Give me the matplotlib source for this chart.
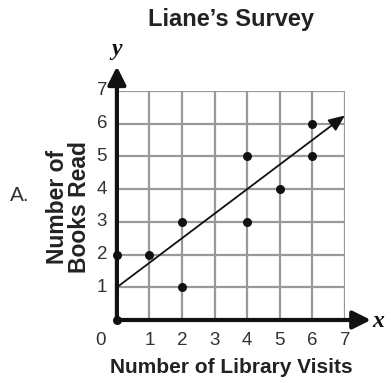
import matplotlib
matplotlib.use("Agg")
import matplotlib.pyplot as plt

plt.rcParams['font.family'] = ['Liberation Sans', 'DejaVu Sans']

# survey results: library visits vs books read
visits = [0, 0, 1, 2, 2, 4, 4, 5, 6, 6]
books = [0, 2, 2, 3, 1, 5, 3, 4, 6, 5]

# trend line y = 0.75x + 1
line_x = [0, 7]
line_y = [1, 6.25]

ticks = [1, 2, 3, 4, 5, 6, 7]

fig = plt.figure(figsize=(3.91, 3.83), dpi=100)
ax = fig.add_axes([0.299, 0.1645, 0.583, 0.598])
ax.set_xlim(0, 7)
ax.set_ylim(0, 7)

for t in range(1, 8):
    ax.axvline(t, color='#999999', lw=1.6, zorder=1)
    ax.axhline(t, color='#999999', lw=1.6, zorder=1)

for s in ax.spines.values():
    s.set_visible(False)
ax.set_xticks([])
ax.set_yticks([])

# axes with arrows
ax.annotate('', xy=(7.8, 0), xytext=(0, 0),
            arrowprops=dict(arrowstyle='-|>,head_length=0.6,head_width=0.3',
                            color='#111111', lw=3,
                            mutation_scale=18, shrinkA=0, shrinkB=0),
            annotation_clip=False)
ax.annotate('', xy=(0, 7.75), xytext=(0, 0),
            arrowprops=dict(arrowstyle='-|>,head_length=0.6,head_width=0.3',
                            color='#111111', lw=3,
                            mutation_scale=18, shrinkA=0, shrinkB=0),
            annotation_clip=False)

ax.annotate('', xy=(line_x[1], line_y[1]), xytext=(line_x[0], line_y[0]),
            arrowprops=dict(arrowstyle='-|>,head_length=0.7,head_width=0.3',
                            color='#111111', lw=1.3,
                            mutation_scale=14, shrinkA=0, shrinkB=0),
            annotation_clip=False)

ax.scatter(visits, books, s=30, color='#111111', zorder=5, clip_on=False)

for t in ticks:
    ax.text(t, -0.38, str(t), ha='center', va='top', fontsize=13.5, color='#333333')
    ax.text(-0.3, t, str(t), ha='right', va='center', fontsize=13.5, color='#333333')
ax.text(-0.5, -0.38, '0', ha='center', va='top', fontsize=13.5, color='#333333')

ax.text(7.85, -0.05, 'x', ha='left', va='center', fontsize=17, style='italic',
        fontweight='bold', family='Liberation Serif', color='#111111')
ax.text(0, 7.95, 'y', ha='center', va='bottom', fontsize=17, style='italic',
        fontweight='bold', family='Liberation Serif', color='#111111')

ax.text(3.5, -1.15, 'Number of Library Visits', ha='center', va='top',
        fontsize=15, fontweight='bold', color='#222222')
ax.text(-1.5, 3.45, 'Number of\nBooks Read', ha='center', va='center',
        rotation=90, fontsize=16.5, fontweight='bold', color='#222222',
        linespacing=0.95)
fig.text(0.591, 0.95, "Liane\u2019s Survey", ha='center', va='center',
         fontsize=17, fontweight='bold', color='#222222')
fig.text(0.026, 0.49, 'A.', ha='left', va='center', fontsize=15, color='#333333')

fig.savefig('out.png', dpi=100)
